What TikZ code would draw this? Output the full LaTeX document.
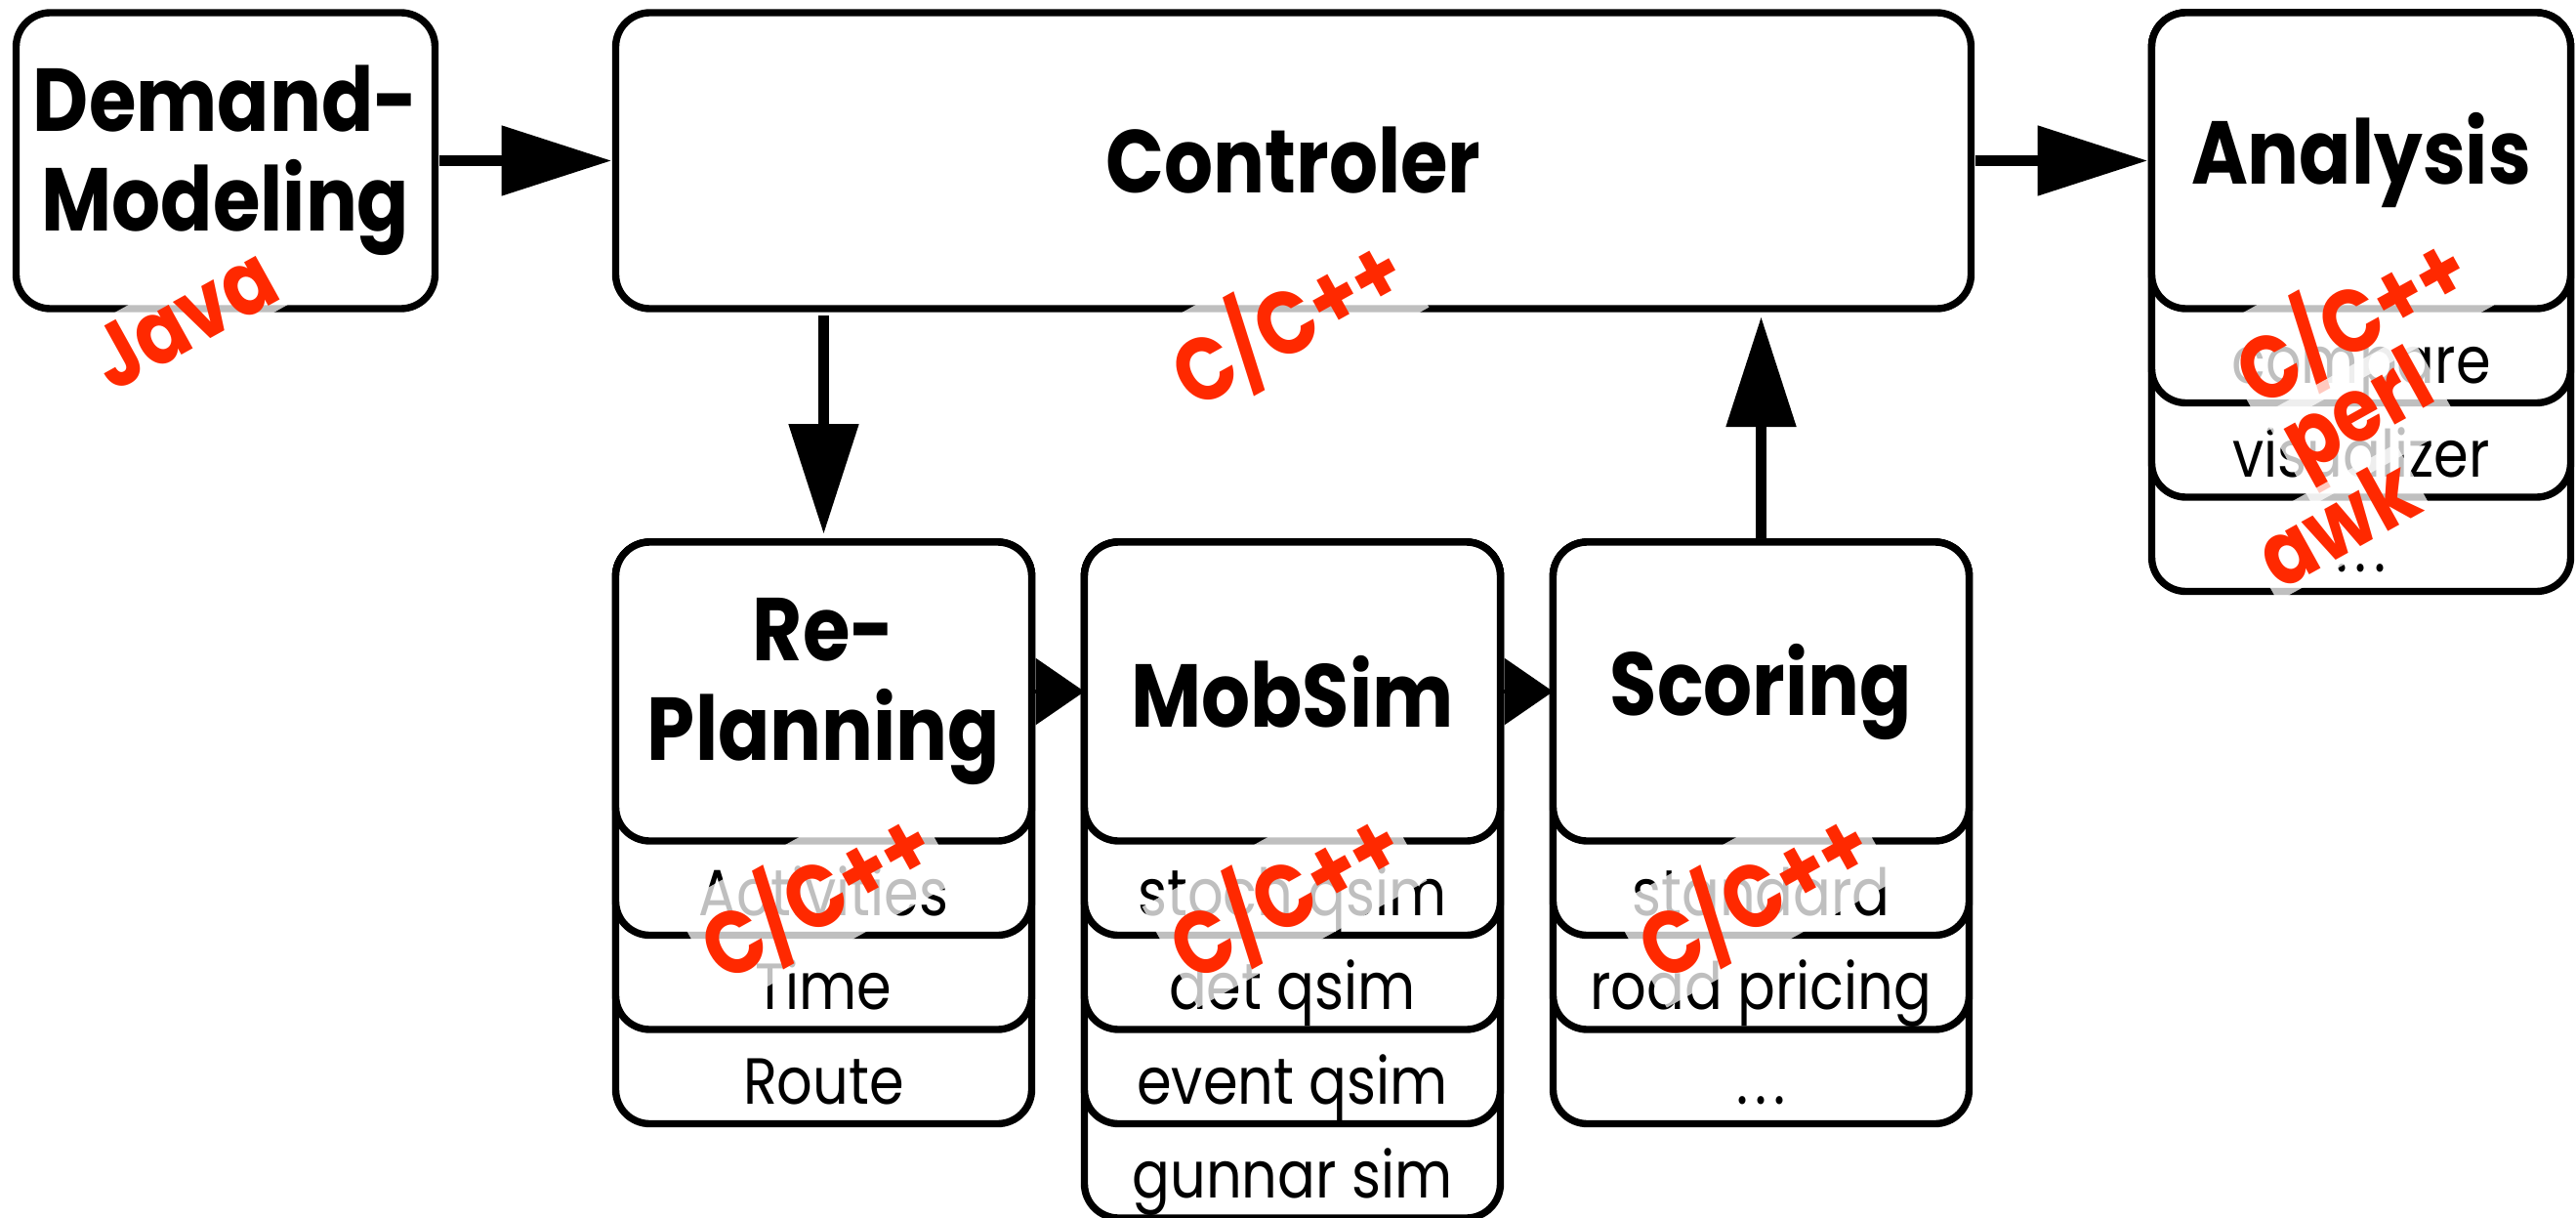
\documentclass[tikz,border=0pt]{standalone}
\usepackage{fontspec}
\setmainfont{Poppins}[FakeStretch=0.86]
\usetikzlibrary{arrows.meta, positioning, calc, backgrounds}
\definecolor{langred}{RGB}{255,41,0}
\tikzset{
    stage/.style={rectangle, draw, line width=2.1pt, rounded corners=0.35cm, fill=white, outer sep=0pt, minimum width=4.26cm, minimum height=3.06cm, align=center, font=\fontsize{26}{29}\selectfont\bfseries},
    item/.style={rectangle, outer sep=0pt, inner sep=0pt, minimum width=4.26cm, minimum height=0.965cm, text height=0.56cm, text depth=0pt, font=\fontsize{19}{21}\selectfont},
    layer/.style={draw, line width=2.1pt, rounded corners=0.35cm, fill=white},
    lang/.style={text=langred, font=\fontsize{26}{26}\selectfont\bfseries, rotate=29, fill=white, fill opacity=0.75, text opacity=1, inner sep=2pt},
    arrow/.style={-{Triangle[length=1.13cm, width=0.69cm]}, line width=3.4pt},
    smallarrow/.style={-{Triangle[length=0.5cm, width=0.68cm]}, line width=1pt}
}
\newcommand{\moredots}{.\hspace{0.07cm}.\hspace{0.07cm}.}

\begin{document}
\begin{tikzpicture}
    \useasboundingbox (0,0) rectangle (26.38,-12.47);

    % top row
    \node (demand) [stage, minimum width=4.29cm, minimum height=3.03cm] at (2.31,-1.645) {Demand-\\Modeling};
    \node (controler) [stage, right=1.85cm of demand, minimum width=13.88cm, minimum height=3.03cm] {Controler};
    \node (analysis) [stage, right=1.85cm of controler, minimum width=4.29cm, minimum height=3.03cm] {Analysis};

    % bottom row
    \node (replan) [stage, below right=2.39cm and 0cm of controler.south west] {Re-\\Planning};
    \node (mobsim) [stage, right=0.54cm of replan] {MobSim};
    \node (scoring) [stage, right=0.54cm of mobsim] {Scoring};

    % modules under each stage
    \node (rp1) [item, below=0cm of replan] {Activities};
    \node (rp2) [item, below=0cm of rp1] {Time};
    \node (rp3) [item, below=0cm of rp2] {Route};
    \node (ms1) [item, below=0cm of mobsim] {stoch qsim};
    \node (ms2) [item, below=0cm of ms1] {det qsim};
    \node (ms3) [item, below=0cm of ms2] {event qsim};
    \node (ms4) [item, below=0cm of ms3] {gunnar sim};
    \node (sc1) [item, below=0cm of scoring] {standard};
    \node (sc2) [item, below=0cm of sc1] {road pricing};
    \node (sc3) [item, below=0cm of sc2] {\moredots};
    \node (an1) [item, below=0cm of analysis, minimum width=4.29cm] {compare};
    \node (an2) [item, below=0cm of an1, minimum width=4.29cm] {visualizer};
    \node (an3) [item, below=0cm of an2, minimum width=4.29cm] {\moredots};

    \begin{scope}[on background layer]
        \draw [layer] (replan.north west) rectangle (rp3.south east);
        \draw [layer] (replan.north west) rectangle (rp2.south east);
        \draw [layer] (replan.north west) rectangle (rp1.south east);
        \draw [layer] (mobsim.north west) rectangle (ms4.south east);
        \draw [layer] (mobsim.north west) rectangle (ms3.south east);
        \draw [layer] (mobsim.north west) rectangle (ms2.south east);
        \draw [layer] (mobsim.north west) rectangle (ms1.south east);
        \draw [layer] (scoring.north west) rectangle (sc3.south east);
        \draw [layer] (scoring.north west) rectangle (sc2.south east);
        \draw [layer] (scoring.north west) rectangle (sc1.south east);
        \draw [layer] (analysis.north west) rectangle (an3.south east);
        \draw [layer] (analysis.north west) rectangle (an2.south east);
        \draw [layer] (analysis.north west) rectangle (an1.south east);
    \end{scope}

    % flow
    \draw [arrow, shorten <=0.04cm, shorten >=0.04cm] (demand) -- (controler);
    \draw [arrow, shorten <=0.04cm, shorten >=0.04cm] (controler) -- (analysis);
    \draw [arrow, shorten <=0.07cm, shorten >=0.08cm] (controler.south -| replan.north) -- (replan.north);
    \draw [arrow, shorten <=0.04cm, shorten >=0.08cm] (scoring.north) -- (scoring.north |- controler.south);
    \draw [smallarrow] (replan) -- (mobsim);
    \draw [smallarrow] (mobsim) -- (scoring);

    % languages
    \node (javalang) [lang] at ($(demand.south)+(-0.43,-0.10)$) {Java};
    \node (ctrllang) [lang] at ($(controler.south)+(-0.07,-0.12)$) {C/C++};
    \node (rplang) [lang] at ($(replan.south)+(-0.08,-0.54)$) {C/C++};
    \node (mslang) [lang] at ($(mobsim.south)+(-0.08,-0.54)$) {C/C++};
    \node (sclang) [lang] at ($(scoring.south)+(-0.08,-0.54)$) {C/C++};
    \node (anlang1) [lang] at ($(analysis.south)+(-0.10,-0.10)$) {C/C++};
    \node (anlang2) [lang] at ($(analysis.south)+(0,-1.13)$) {perl};
    \node (anlang3) [lang] at ($(analysis.south)+(-0.25,-2.19)$) {awk};
\end{tikzpicture}
\end{document}
